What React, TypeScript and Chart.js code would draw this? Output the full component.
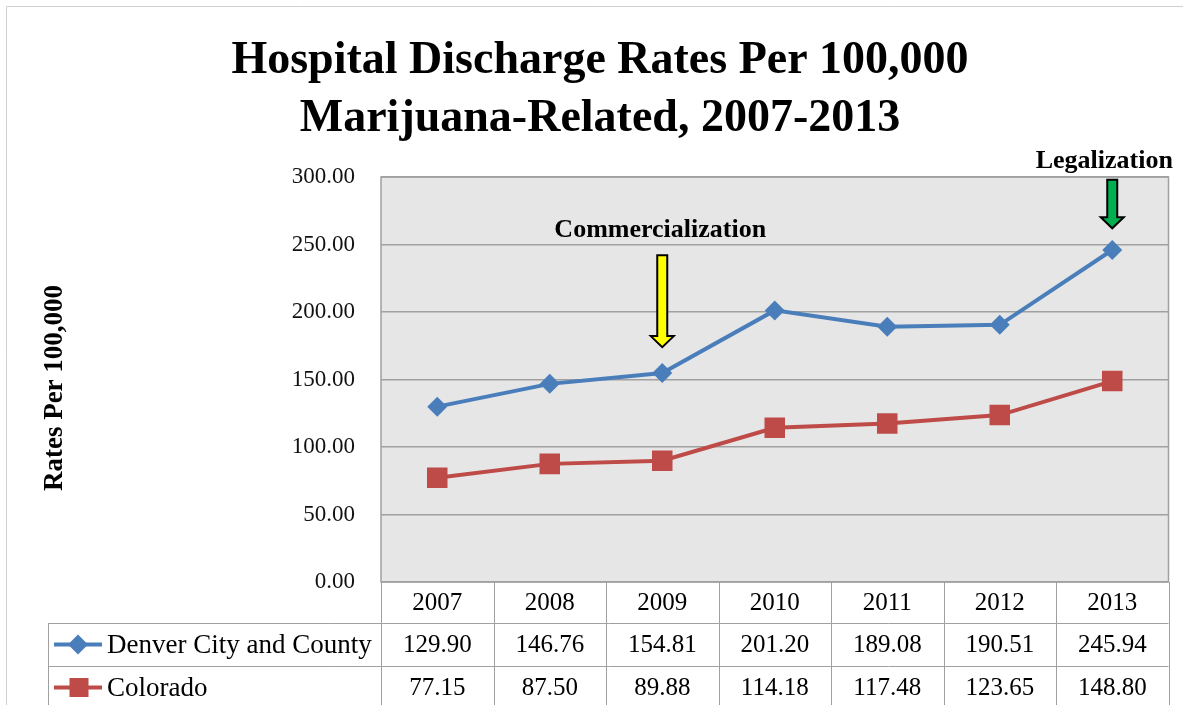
import React, { useEffect, useRef } from "react";
import { Chart, registerables } from "chart.js";

Chart.register(...registerables);

const years = ["2007", "2008", "2009", "2010", "2011", "2012", "2013"];
const denverRates = [129.9, 146.76, 154.81, 201.2, 189.08, 190.51, 245.94];
const coloradoRates = [77.15, 87.5, 89.88, 114.18, 117.48, 123.65, 148.8];
const seriesNames = ["Denver City and County", "Colorado"];
const titleLines = ["Hospital Discharge Rates Per 100,000", "Marijuana-Related, 2007-2013"];
const yAxisTitle = "Rates Per 100,000";
const yMin = 0;
const yMax = 300;
const yStep = 50;

const annotationLabels = ["Commercialization", "Legalization"];
const annotationIndex = [2, 6];
const annotationColors = ["#FFFF00", "#00B050"];
const annotationTip = [174, 262];
const annotationTail = [242, 298];
const annotationText = [255.5, 306.5];
const annotationTextShift = [-2, -8];

const BLUE = "#4A7EBB";
const RED = "#BE4B48";
const FONT = "'Liberation Serif', 'Times New Roman', serif";

function drawDiamond(ctx: CanvasRenderingContext2D, x: number, y: number, r: number, color: string) {
  ctx.save();
  ctx.fillStyle = color;
  ctx.beginPath();
  ctx.moveTo(x, y - r);
  ctx.lineTo(x + r, y);
  ctx.lineTo(x, y + r);
  ctx.lineTo(x - r, y);
  ctx.closePath();
  ctx.fill();
  ctx.restore();
}

function drawSquare(ctx: CanvasRenderingContext2D, x: number, y: number, s: number, color: string) {
  ctx.save();
  ctx.fillStyle = color;
  ctx.fillRect(x - s / 2, y - s / 2, s, s);
  ctx.restore();
}

const decorPlugin = {
  id: "decor",
  beforeDraw(chart: any) {
    const { ctx, chartArea: ca, width } = chart;
    ctx.save();
    ctx.fillStyle = "#ffffff";
    ctx.fillRect(0, 0, chart.width, chart.height);
    ctx.strokeStyle = "#d0d0d0";
    ctx.lineWidth = 1;
    ctx.beginPath();
    ctx.moveTo(6.5, chart.height);
    ctx.lineTo(6.5, 6.5);
    ctx.lineTo(width, 6.5);
    ctx.stroke();
    ctx.fillStyle = "#E6E6E6";
    ctx.fillRect(ca.left, ca.top, ca.right - ca.left, ca.bottom - ca.top);
    ctx.restore();
  },
  beforeDatasetsDraw(chart: any) {
    const { ctx, chartArea: ca } = chart;
    ctx.save();
    ctx.strokeStyle = "#A0A0A0";
    ctx.lineWidth = 1.5;
    ctx.strokeRect(ca.left, ca.top, ca.right - ca.left, ca.bottom - ca.top);
    ctx.restore();
  },
  afterDraw(chart: any) {
    const { ctx, chartArea: ca } = chart;
    const xs = chart.scales.x;
    const ys = chart.scales.y;
    const n = years.length;
    const colW = (ca.right - ca.left) / n;
    ctx.save();

    // Title
    ctx.fillStyle = "#000";
    ctx.textAlign = "center";
    ctx.textBaseline = "alphabetic";
    ctx.font = `bold 46px ${FONT}`;
    ctx.fillText(titleLines[0], 600, 73);
    ctx.fillText(titleLines[1], 600, 131);

    // Y axis title
    ctx.save();
    ctx.translate(55, 388);
    ctx.rotate(-Math.PI / 2);
    ctx.font = `bold 27px ${FONT}`;
    ctx.textAlign = "center";
    ctx.textBaseline = "middle";
    ctx.fillText(yAxisTitle, 0, 0);
    ctx.restore();

    // Data table
    const tableLeft = 48;
    const rowTop = ca.bottom;
    const row1 = ca.bottom + 41;
    const row2 = ca.bottom + 84;
    const rowEnd = ca.bottom + 127;
    ctx.strokeStyle = "#A0A0A0";
    ctx.lineWidth = 1;
    ctx.beginPath();
    for (let i = 0; i <= n; i++) {
      const x = Math.round(ca.left + i * colW) + 0.5;
      ctx.moveTo(x, rowTop);
      ctx.lineTo(x, rowEnd);
    }
    ctx.moveTo(tableLeft + 0.5, row1);
    ctx.lineTo(tableLeft + 0.5, rowEnd);
    ctx.moveTo(tableLeft, row1 + 0.5);
    ctx.lineTo(ca.right, row1 + 0.5);
    ctx.moveTo(tableLeft, row2 + 0.5);
    ctx.lineTo(ca.right, row2 + 0.5);
    ctx.stroke();

    ctx.fillStyle = "#000";
    ctx.textAlign = "center";
    ctx.textBaseline = "middle";
    ctx.font = `25px ${FONT}`;
    for (let i = 0; i < n; i++) {
      const cx = xs.getPixelForValue(i);
      ctx.fillText(years[i], cx, (rowTop + row1) / 2 + 1);
      ctx.fillText(denverRates[i].toFixed(2), cx, (row1 + row2) / 2 + 1);
      ctx.fillText(coloradoRates[i].toFixed(2), cx, (row2 + rowEnd) / 2 + 1);
    }

    // legend keys in table
    const keyY1 = (row1 + row2) / 2;
    const keyY2 = (row2 + rowEnd) / 2;
    ctx.lineWidth = 4;
    ctx.strokeStyle = BLUE;
    ctx.beginPath();
    ctx.moveTo(54, keyY1);
    ctx.lineTo(102, keyY1);
    ctx.stroke();
    drawDiamond(ctx, 78, keyY1, 10, BLUE);
    ctx.strokeStyle = RED;
    ctx.beginPath();
    ctx.moveTo(54, keyY2);
    ctx.lineTo(102, keyY2);
    ctx.stroke();
    drawSquare(ctx, 79, keyY2, 19, RED);
    ctx.fillStyle = "#000";
    ctx.textAlign = "left";
    ctx.font = `27px ${FONT}`;
    ctx.fillText(seriesNames[0], 107, keyY1 + 1);
    ctx.fillText(seriesNames[1], 107, keyY2 + 1);

    // annotation arrows
    for (let k = 0; k < annotationLabels.length; k++) {
      const x = xs.getPixelForValue(annotationIndex[k]);
      const tipY = ys.getPixelForValue(annotationTip[k]);
      const tailY = ys.getPixelForValue(annotationTail[k]);
      const headLen = 11;
      const shaftHalf = 5;
      const headHalf = 11.5;
      ctx.beginPath();
      ctx.moveTo(x - shaftHalf, tailY);
      ctx.lineTo(x + shaftHalf, tailY);
      ctx.lineTo(x + shaftHalf, tipY - headLen);
      ctx.lineTo(x + headHalf, tipY - headLen);
      ctx.lineTo(x, tipY);
      ctx.lineTo(x - headHalf, tipY - headLen);
      ctx.lineTo(x - shaftHalf, tipY - headLen);
      ctx.closePath();
      ctx.fillStyle = annotationColors[k];
      ctx.fill();
      ctx.strokeStyle = "#000";
      ctx.lineWidth = 2;
      ctx.lineJoin = "miter";
      ctx.stroke();

      ctx.fillStyle = "#000";
      ctx.textAlign = "center";
      ctx.textBaseline = "alphabetic";
      ctx.font = `bold 26px ${FONT}`;
      ctx.fillText(annotationLabels[k], x + annotationTextShift[k], ys.getPixelForValue(annotationText[k]));
    }

    ctx.restore();
  },
};

export default function App() {
  const canvasRef = useRef<HTMLCanvasElement | null>(null);

  useEffect(() => {
    document.body.style.margin = "0";
    const canvas = canvasRef.current;
    if (!canvas) return;
    const chart = new Chart(canvas, {
      type: "line",
      data: {
        labels: years,
        datasets: [
          {
            label: seriesNames[0],
            data: denverRates,
            borderColor: BLUE,
            backgroundColor: BLUE,
            borderWidth: 4,
            pointStyle: "rectRot",
            pointRadius: 10,
            pointBorderWidth: 0,
            pointBackgroundColor: BLUE,
            tension: 0,
          },
          {
            label: seriesNames[1],
            data: coloradoRates,
            borderColor: RED,
            backgroundColor: RED,
            borderWidth: 4,
            pointStyle: "rect",
            pointRadius: 14.5,
            pointBorderWidth: 0,
            pointBackgroundColor: RED,
            tension: 0,
          },
        ],
      },
      options: {
        animation: false,
        responsive: false,
        devicePixelRatio: 1,
        layout: { padding: { top: 177, bottom: 123, left: 0, right: 12 } },
        plugins: {
          legend: { display: false },
          title: { display: false },
          tooltip: { enabled: false },
        },
        scales: {
          x: {
            type: "category",
            display: false,
            offset: true,
            grid: { display: false },
          },
          y: {
            min: yMin,
            max: yMax,
            afterFit: (scale: any) => {
              scale.width = 381;
            },
            border: { display: false },
            grid: { color: "#A0A0A0", lineWidth: 1.5, drawTicks: false },
            ticks: {
              stepSize: yStep,
              padding: 26,
              color: "#111",
              font: { family: FONT, size: 23 },
              callback: (v: any) => Number(v).toFixed(2),
            },
          },
        },
      },
      plugins: [decorPlugin],
    });
    return () => chart.destroy();
  }, []);

  return (
    <div style={{ width: 1183, height: 705 }}>
      <canvas ref={canvasRef} width={1183} height={705} style={{ display: "block" }} />
    </div>
  );
}
